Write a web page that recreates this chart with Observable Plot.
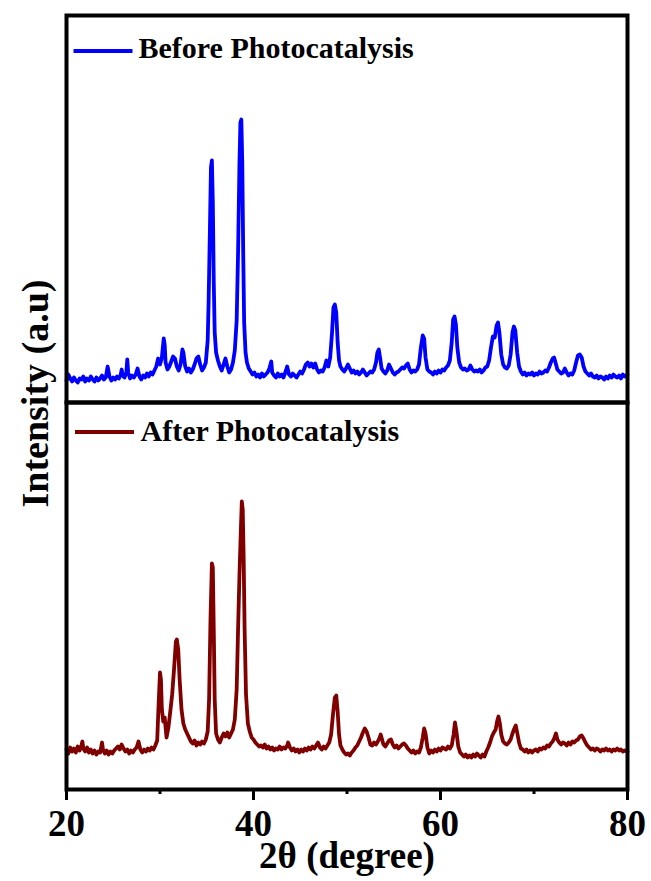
<!DOCTYPE html>
<html>
<head>
<meta charset="utf-8">
<script src="https://cdn.jsdelivr.net/npm/d3@7"></script>
<script src="https://cdn.jsdelivr.net/npm/@observablehq/plot@0.6"></script>
<style>
  html, body { margin: 0; padding: 0; background: #fff; }
  #chart svg { display: block; }
</style>
</head>
<body>
<div id="chart"></div>
<script>
// ---- data (2θ in degrees, intensity in arbitrary units) ----
const seriesKeys = ["Before", "After"];
const seriesLabels = ["Before Photocatalysis", "After Photocatalysis"];
const seriesColors = ["#0000ff", "#800000"];
const xTicks = [20, 40, 60, 80];
const xMinorTicks = [30, 50, 70];
const xLabel = "2θ (degree)";
const yLabel = "Intensity (a.u)";

const before = [
  [20.0,22],[20.2,28],[20.4,24],[20.6,21],[20.8,25],[21.0,22],[21.2,20],[21.4,24],[21.6,23],[21.8,26],
  [22.0,21],[22.2,24],[22.4,22],[22.6,26],[22.8,23],[23.0,21],[23.2,25],[23.4,22],[23.6,24],[23.8,27],
  [24.0,23],[24.2,25],[24.4,36],[24.6,26],[24.8,22],[25.0,25],[25.2,23],[25.4,26],[25.6,24],[25.8,28],
  [25.9,33],[26.0,27],[26.2,25],[26.4,30],[26.5,43],[26.6,30],[26.8,24],[27.0,27],[27.2,25],[27.4,28],
  [27.6,34],[27.8,26],[28.0,23],[28.2,27],[28.4,25],[28.6,29],[28.8,26],[29.0,30],[29.2,28],[29.4,32],
  [29.6,36],[29.8,44],[30.0,38],[30.2,45],[30.4,64],[30.5,58],[30.6,40],[30.8,33],[31.0,36],[31.2,41],
  [31.4,46],[31.6,44],[31.8,36],[32.0,32],[32.2,38],[32.4,53],[32.5,50],[32.7,36],[32.9,31],[33.1,34],
  [33.3,30],[33.5,33],[33.7,38],[33.9,44],[34.1,46],[34.3,38],[34.5,32],[34.7,35],[34.9,40],[35.1,62],
  [35.2,100],[35.35,180],[35.45,235],[35.55,242],[35.65,200],[35.75,120],[35.85,70],[36.0,50],[36.2,42],[36.4,36],
  [36.6,32],[36.8,38],[37.0,44],[37.2,36],[37.4,30],[37.6,33],[37.8,40],[38.0,52],[38.2,82],[38.35,150],
  [38.5,240],[38.6,280],[38.7,283],[38.8,240],[38.9,150],[39.0,80],[39.15,50],[39.3,40],[39.5,34],[39.7,31],
  [39.9,28],[40.1,30],[40.3,26],[40.5,28],[40.7,25],[40.9,29],[41.1,26],[41.3,28],[41.5,30],[41.7,34],
  [41.9,41],[42.0,30],[42.2,27],[42.4,25],[42.6,29],[42.8,26],[43.0,28],[43.2,25],[43.4,30],[43.6,36],
  [43.8,28],[44.0,26],[44.2,29],[44.4,27],[44.6,25],[44.8,28],[45.0,31],[45.2,29],[45.4,33],[45.6,38],
  [45.8,40],[46.0,36],[46.2,39],[46.4,35],[46.6,39],[46.8,33],[47.0,30],[47.2,32],[47.4,31],[47.6,35],
  [47.8,42],[48.0,36],[48.2,45],[48.4,70],[48.55,95],[48.7,98],[48.85,90],[49.0,60],[49.15,42],[49.3,36],
  [49.5,33],[49.7,31],[49.9,34],[50.1,38],[50.3,34],[50.5,30],[50.7,32],[50.9,29],[51.1,31],[51.3,28],
  [51.5,30],[51.7,33],[51.9,30],[52.1,27],[52.3,29],[52.5,31],[52.7,30],[52.9,33],[53.1,40],[53.25,50],
  [53.4,53],[53.55,44],[53.7,34],[53.9,31],[54.1,29],[54.3,32],[54.5,38],[54.7,34],[54.9,30],[55.1,28],
  [55.3,30],[55.5,31],[55.7,33],[55.9,35],[56.1,34],[56.3,37],[56.5,39],[56.7,33],[56.9,30],[57.1,32],
  [57.3,31],[57.5,33],[57.7,38],[57.9,55],[58.1,67],[58.25,64],[58.4,45],[58.6,33],[58.8,31],[59.0,30],
  [59.2,28],[59.4,31],[59.6,29],[59.8,32],[60.0,30],[60.2,33],[60.4,32],[60.6,35],[60.8,37],[61.0,42],
  [61.2,60],[61.35,83],[61.5,86],[61.65,78],[61.8,55],[62.0,40],[62.2,35],[62.4,33],[62.6,34],[62.8,32],
  [63.0,33],[63.2,37],[63.4,33],[63.6,31],[63.8,32],[64.0,31],[64.2,33],[64.4,30],[64.6,32],[64.8,35],
  [65.0,36],[65.2,42],[65.4,55],[65.6,66],[65.8,65],[66.0,77],[66.15,80],[66.3,70],[66.5,48],[66.7,38],
  [66.9,35],[67.1,34],[67.3,37],[67.5,48],[67.7,70],[67.85,76],[68.0,72],[68.2,50],[68.4,36],[68.6,31],
  [68.8,28],[69.0,30],[69.2,27],[69.4,29],[69.6,28],[69.8,30],[70.0,27],[70.2,29],[70.4,28],[70.6,31],
  [70.8,29],[71.0,30],[71.2,32],[71.4,31],[71.6,35],[71.8,40],[72.0,44],[72.15,45],[72.3,40],[72.5,33],
  [72.7,31],[72.9,29],[73.1,30],[73.3,34],[73.5,30],[73.7,27],[73.9,29],[74.1,28],[74.3,32],[74.5,40],
  [74.7,47],[74.9,48],[75.1,45],[75.3,36],[75.5,31],[75.7,29],[75.9,27],[76.1,29],[76.3,26],[76.5,25],
  [76.7,27],[76.9,24],[77.1,26],[77.3,25],[77.5,23],[77.7,26],[77.9,24],[78.1,27],[78.3,25],[78.5,28],
  [78.7,26],[78.9,25],[79.1,27],[79.3,24],[79.5,28],[79.7,26],[80.0,28]
];

const after = [
  [20.0,40],[20.2,36],[20.4,42],[20.6,38],[20.8,41],[21.0,37],[21.2,43],[21.4,39],[21.6,44],[21.7,48],
  [21.8,41],[22.0,38],[22.2,42],[22.4,37],[22.6,40],[22.8,36],[23.0,39],[23.2,35],[23.4,38],[23.6,37],
  [23.8,47],[23.9,40],[24.1,36],[24.3,39],[24.5,35],[24.7,38],[24.9,36],[25.1,39],[25.3,41],[25.5,43],
  [25.7,40],[25.9,45],[26.1,41],[26.3,38],[26.5,40],[26.7,36],[26.9,39],[27.1,37],[27.3,40],[27.5,42],
  [27.7,48],[27.9,40],[28.1,37],[28.3,40],[28.5,38],[28.7,41],[28.9,39],[29.1,42],[29.3,40],[29.5,44],
  [29.7,49],[29.85,85],[30.0,117],[30.1,110],[30.2,80],[30.35,68],[30.5,72],[30.7,52],[30.9,62],[31.1,78],
  [31.3,95],[31.5,120],[31.7,148],[31.8,150],[31.95,140],[32.1,110],[32.3,80],[32.5,66],[32.7,60],[32.9,56],
  [33.1,52],[33.3,48],[33.5,46],[33.7,49],[33.9,44],[34.1,47],[34.3,45],[34.5,48],[34.7,46],[34.9,50],
  [35.1,58],[35.25,90],[35.4,170],[35.55,226],[35.65,222],[35.75,160],[35.85,90],[36.0,56],[36.2,50],[36.4,47],
  [36.6,52],[36.8,56],[37.0,53],[37.2,57],[37.4,52],[37.6,56],[37.8,60],[38.0,70],[38.2,100],[38.35,160],
  [38.5,215],[38.65,260],[38.75,288],[38.85,280],[38.95,230],[39.05,160],[39.2,95],[39.4,66],[39.6,58],[39.8,52],
  [40.0,50],[40.2,47],[40.4,45],[40.6,43],[40.8,44],[41.0,42],[41.2,45],[41.4,41],[41.6,43],[41.8,40],
  [42.0,42],[42.2,39],[42.4,41],[42.6,40],[42.8,43],[43.0,40],[43.2,42],[43.4,41],[43.6,44],[43.7,47],
  [43.9,42],[44.1,39],[44.3,41],[44.5,38],[44.7,40],[44.9,37],[45.1,40],[45.3,38],[45.5,41],[45.7,39],
  [45.9,42],[46.1,40],[46.3,43],[46.5,41],[46.7,44],[46.9,47],[47.1,42],[47.3,40],[47.5,43],[47.7,41],
  [47.9,44],[48.1,47],[48.3,55],[48.5,75],[48.7,92],[48.85,94],[49.0,78],[49.15,55],[49.3,44],[49.5,40],
  [49.7,37],[49.9,35],[50.1,36],[50.3,34],[50.5,37],[50.7,39],[50.9,42],[51.1,44],[51.3,48],[51.5,52],
  [51.7,57],[51.9,61],[52.1,58],[52.3,52],[52.5,45],[52.7,44],[52.9,47],[53.1,45],[53.3,48],[53.5,52],
  [53.6,55],[53.75,50],[53.9,45],[54.1,43],[54.3,46],[54.5,49],[54.7,50],[54.9,45],[55.1,42],[55.3,44],
  [55.5,41],[55.7,43],[55.9,45],[56.1,46],[56.3,44],[56.5,41],[56.7,39],[56.9,37],[57.1,39],[57.3,36],
  [57.5,38],[57.7,37],[57.9,42],[58.1,52],[58.25,61],[58.4,56],[58.6,42],[58.8,36],[59.0,39],[59.2,37],
  [59.4,40],[59.6,38],[59.8,41],[60.0,39],[60.2,42],[60.4,41],[60.6,40],[60.8,43],[61.0,41],[61.2,44],
  [61.4,55],[61.55,67],[61.7,58],[61.9,43],[62.1,37],[62.3,35],[62.5,33],[62.7,35],[62.9,32],[63.1,34],
  [63.3,32],[63.5,35],[63.7,33],[63.9,36],[64.1,34],[64.3,32],[64.5,35],[64.7,33],[64.9,38],[65.1,42],
  [65.3,47],[65.5,53],[65.7,57],[65.9,60],[66.05,68],[66.2,73],[66.35,66],[66.5,55],[66.7,48],[66.9,46],
  [67.1,45],[67.3,47],[67.5,50],[67.7,56],[67.9,61],[68.05,64],[68.2,57],[68.4,47],[68.6,41],[68.8,40],
  [69.0,38],[69.2,40],[69.4,37],[69.6,39],[69.8,37],[70.0,39],[70.2,40],[70.4,38],[70.6,41],[70.8,40],
  [71.0,42],[71.2,41],[71.4,44],[71.6,43],[71.8,46],[72.0,48],[72.2,52],[72.35,56],[72.5,50],[72.7,47],
  [72.9,45],[73.1,47],[73.3,46],[73.5,44],[73.7,47],[73.9,45],[74.1,48],[74.3,47],[74.5,49],[74.7,50],
  [74.9,53],[75.1,54],[75.3,51],[75.5,47],[75.7,44],[75.9,42],[76.1,40],[76.3,41],[76.5,39],[76.7,41],
  [76.9,40],[77.1,38],[77.3,40],[77.5,39],[77.7,41],[77.9,39],[78.1,40],[78.3,38],[78.5,40],[78.7,39],
  [78.9,41],[79.1,39],[79.3,40],[79.5,38],[79.7,39],[80.0,38]
];

// ---- build ----
const rows = [
  ...before.map(([x, y]) => ({x, y, s: seriesKeys[0]})),
  ...after.map(([x, y]) => ({x, y, s: seriesKeys[1]}))
];

const swatchSymbol = {
  draw(context) { context.moveTo(-29.5, 0); context.lineTo(29.5, 0); }
};

const legendPos = [
  {textDx: 72, textDy: 21, lineDx: 36.5, lineDy: 35.5},
  {textDx: 74, textDy: 17, lineDx: 38, lineDy: 29.5}
];

const legendMarks = seriesKeys.flatMap((k, i) => [
  Plot.dot([k], {
    fy: [k], frameAnchor: "top-left", dx: legendPos[i].lineDx, dy: legendPos[i].lineDy,
    symbol: swatchSymbol, stroke: seriesColors[i], fill: "none", strokeWidth: 4, r: 10
  }),
  Plot.text([seriesLabels[i]], {
    fy: [k], frameAnchor: "top-left", textAnchor: "start", lineAnchor: "top",
    dx: legendPos[i].textDx, dy: legendPos[i].textDy, fontSize: 30, fill: "black"
  })
]);

const chart = Plot.plot({
  width: 651,
  height: 881,
  marginLeft: 66,
  marginRight: 24,
  marginTop: 14.5,
  marginBottom: 92,
  style: {
    fontFamily: "'Liberation Serif', 'Times New Roman', serif",
    fontWeight: "bold",
    color: "black",
    background: "white"
  },
  x: {domain: [20, 80]},
  y: {domain: [0, 387], axis: null},
  fy: {domain: seriesKeys, padding: 0, axis: null},
  color: {domain: seriesKeys, range: seriesColors},
  marks: [
    Plot.line(rows, {x: "x", y: "y", fy: "s", stroke: "s", strokeWidth: 3.8, strokeLinejoin: "round"}),
    Plot.frame({stroke: "black", strokeWidth: 4}),
    Plot.axisX({ticks: xMinorTicks, tickSize: 5, strokeWidth: 3, text: null, label: null}),
    Plot.axisX({
      ticks: xTicks, tickSize: 11, tickPadding: 9, strokeWidth: 3, fontSize: 37,
      tickFormat: d => String(d),
      label: xLabel, labelAnchor: "center", labelOffset: 78, labelArrow: "none"
    }),
    Plot.text([yLabel], {
      fy: [seriesKeys[0]], frameAnchor: "bottom-left", rotate: -90,
      textAnchor: "middle", lineAnchor: "middle",
      dx: -31, dy: -9, fontSize: 38, fill: "black"
    }),
    ...legendMarks
  ]
});

document.getElementById("chart").appendChild(chart);
</script>
</body>
</html>
